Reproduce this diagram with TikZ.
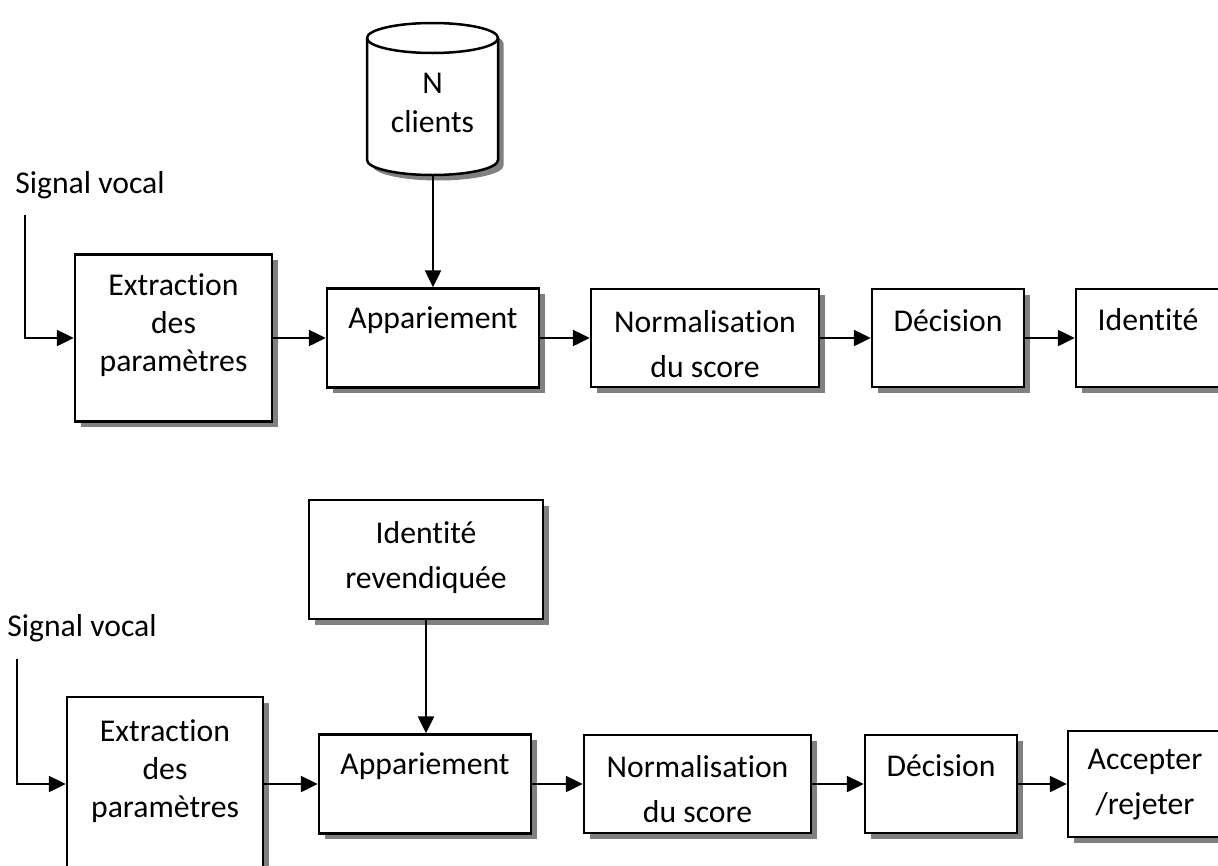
\documentclass[tikz,border=0pt]{standalone}
\usepackage{fontspec}
\setmainfont{Carlito}[Ligatures={NoCommon,NoRare,NoContextual}]
\usetikzlibrary{shadows,arrows.meta}
\begin{document}
\begin{tikzpicture}[x=1pt,y=-1pt,
  box/.style={draw, line width=2.5pt, fill=white, inner sep=0pt,
    drop shadow={shadow xshift=5.5pt, shadow yshift=-5.5pt, fill=black!50, opacity=1}},
  lbl/.style={font=\fontsize{31.7}{45}\selectfont, align=center, inner sep=0pt},
  lblx/.style={font=\fontsize{31.7}{38}\selectfont, align=center, inner sep=0pt},
  arr/.style={line width=2.5pt, -{Triangle[length=17pt,width=16pt]}}]
\useasboundingbox (0,0) rectangle (1218,865);

% ---------- top: identification ----------
\fill[black!50, xshift=5.5pt, yshift=-5.5pt] (367,38) -- (367,160)
  arc[start angle=180, end angle=360, x radius=65.5pt, y radius=15pt] -- (498,38)
  arc[start angle=0, end angle=180, x radius=65.5pt, y radius=15pt] -- cycle;
\draw[line width=2.5pt, fill=white] (367,38) -- (367,160)
  arc[start angle=180, end angle=360, x radius=65.5pt, y radius=15pt] -- (498,38)
  arc[start angle=0, end angle=180, x radius=65.5pt, y radius=15pt] -- cycle;
\draw[line width=2.5pt] (367,38)
  arc[start angle=180, end angle=360, x radius=65.5pt, y radius=15pt];
\coordinate (cylb) at (433,176);
\node[font=\fontsize{31.7}{39}\selectfont, align=center, inner sep=0pt] (tcyl) at (432.5,103) {N\\clients};

\node[box, minimum width=197pt, minimum height=167pt] (ext1) at (173.5,338) {};
\node[box, minimum width=212pt, minimum height=99pt] (app1) at (433,338) {};
\node[box, minimum width=228pt, minimum height=98pt] (nor1) at (705,338) {};
\node[box, minimum width=152pt, minimum height=98pt] (dec1) at (948,338) {};
\node[box, minimum width=146pt, minimum height=98pt] (ide1) at (1149,338) {};

\node[lbl] (tsig1) at (90,185) {Signal vocal};
\node[lblx] (text1) at (173.5,325) {Extraction\\des\\paramètres};
\node[lbl] (tapp1) at (433,320) {Appariement};
\node[lbl] (tnor1) at (705,344) {Normalisation\\du score};
\node[lbl] (tdec1) at (948,321) {Décision};
\node[lbl] (tide1) at (1148,320) {Identité};

\coordinate (s1) at (25,215);
\draw[arr] (s1) |- (ext1.west);
\draw[arr] (ext1.east) -- (app1.west);
\draw[arr] (app1.east) -- (nor1.west);
\draw[arr] (nor1.east) -- (dec1.west);
\draw[arr] (dec1.east) -- (ide1.west);
\draw[arr] (cylb) -- (app1.north);

% ---------- bottom: verification ----------
\node[box, minimum width=196pt, minimum height=183pt] (ext2) at (165,788.5) {};
\node[box, minimum width=234pt, minimum height=119pt] (idr) at (426,559.5) {};
\node[box, minimum width=212pt, minimum height=99pt] (app2) at (425,784) {};
\node[box, minimum width=227pt, minimum height=98pt] (nor2) at (697.5,784) {};
\node[box, minimum width=152pt, minimum height=98pt] (dec2) at (941,784) {};
\node[box, minimum width=154pt, minimum height=106pt] (acc) at (1145,784) {};

\node[lbl] (tsig2) at (82,628) {Signal vocal};
\node[lblx] (text2) at (165,771.5) {Extraction\\des\\paramètres};
\node[lbl] (tidr) at (426,558) {Identité\\revendiquée};
\node[lbl] (tapp2) at (425,766) {Appariement};
\node[lbl] (tnor2) at (697.5,789.5) {Normalisation\\du score};
\node[lbl] (tdec2) at (941,766) {Décision};
\node[lbl] (tacc) at (1145,785) {Accepter\\/rejeter};

\coordinate (s2) at (17,659);
\draw[arr] (s2) |- (ext2.west |- app2.west);
\draw[arr] (ext2.east |- app2.west) -- (app2.west);
\draw[arr] (app2.east) -- (nor2.west);
\draw[arr] (nor2.east) -- (dec2.west);
\draw[arr] (dec2.east) -- (acc.west);
\draw[arr] (idr.south) -- (idr.south |- app2.north);
\end{tikzpicture}
\end{document}
